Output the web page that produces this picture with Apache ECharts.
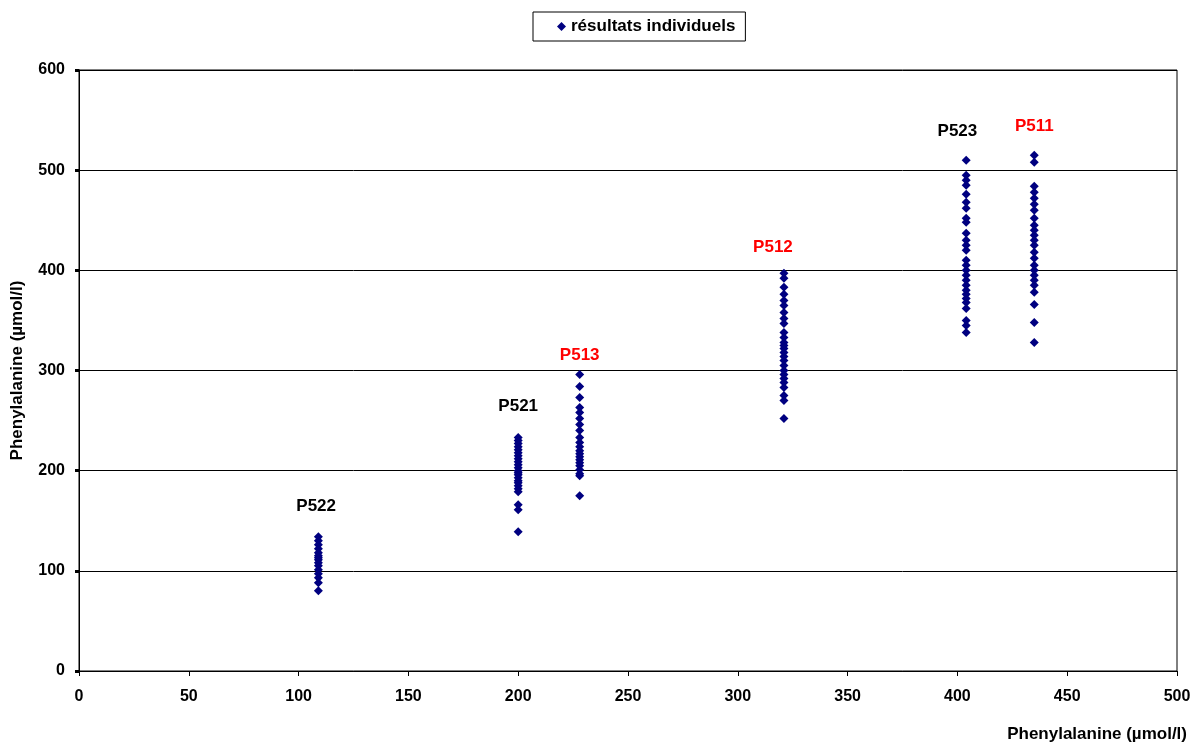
<!DOCTYPE html>
<html>
<head>
<meta charset="utf-8">
<script src="https://cdn.jsdelivr.net/npm/echarts@6/dist/echarts.min.js"></script>
<style>html,body{margin:0;padding:0;background:#fff}#c{width:1196px;height:743px}</style>
</head>
<body>
<div id="c"></div>
<script>
const seriesName = 'résultats individuels';
const axisTitle = 'Phenylalanine (µmol/l)';
const xTicks = {min: 0, max: 500, interval: 50};
const yTicks = {min: 0, max: 600, interval: 100};

// clusters: target x value and individual results
const p522X = 109;
const p522Y = [134, 130, 126, 122, 118, 115, 113, 111, 108, 105, 101, 97, 93, 88, 80];
const p521X = 200;
const p521Y = [233, 230, 227, 224, 221, 218, 215, 212, 209, 206, 203, 200, 198, 196, 193, 190, 188, 185, 182, 179, 166, 161, 139];
const p513X = 228;
const p513Y = [296, 284, 273, 263, 258, 252, 246, 240, 233, 228, 224, 220, 217, 214, 211, 208, 205, 201, 197, 195, 175];
const p512X = 321;
const p512Y = [397, 392, 383, 376, 370, 365, 358, 352, 347, 338, 333, 328, 325, 322, 318, 314, 310, 305, 300, 296, 292, 288, 283, 275, 270, 252];
const p523X = 404;
const p523Y = [510, 495, 490, 485, 476, 468, 462, 452, 448, 437, 430, 425, 420, 410, 405, 400, 395, 390, 385, 380, 376, 372, 368, 362, 350, 345, 338];
const p511X = 435;
const p511Y = [515, 508, 484, 478, 472, 466, 460, 452, 445, 440, 435, 430, 425, 418, 412, 405, 400, 395, 390, 385, 378, 366, 348, 328];

// cluster labels
const labelNames = ['P522', 'P521', 'P513', 'P512', 'P523', 'P511'];
const labelX = [108, 200, 228, 316, 400, 435];
const labelY = [164, 264, 315, 423, 539, 544];
const labelRed = [false, false, true, true, false, true];

const clusters = [[p522X, p522Y], [p521X, p521Y], [p513X, p513Y], [p512X, p512Y], [p523X, p523Y], [p511X, p511Y]];
const points = [];
clusters.forEach(([x, ys]) => ys.forEach(y => points.push([x, y])));

const FONT = 'Liberation Sans, Arial, sans-serif';
const diamond = 'path://M0,-1 L1,0 L0,1 L-1,0 Z';

const chart = echarts.init(document.getElementById('c'), null, {renderer: 'canvas'});
chart.setOption({
  backgroundColor: '#fff',
  animation: false,
  legend: {
    data: [{name: seriesName, icon: diamond}],
    top: 12, left: 533,
    itemWidth: 9, itemHeight: 9, itemGap: 4,
    borderColor: '#000', borderWidth: 1,
    padding: [6, 10, 6, 24],
    textStyle: {fontFamily: FONT, fontWeight: 'bold', fontSize: 17, color: '#000'}
  },
  grid: {left: 79, right: 19, top: 70, bottom: 72, show: true, borderColor: '#000', borderWidth: 1, backgroundColor: '#fff'},
  xAxis: {
    type: 'value', min: xTicks.min, max: xTicks.max, interval: xTicks.interval,
    name: axisTitle, nameLocation: 'end', nameGap: 10,
    nameTextStyle: {fontFamily: FONT, fontWeight: 'bold', fontSize: 17, color: '#000', align: 'right', verticalAlign: 'top', padding: [55, 0, 0, 0]},
    axisLine: {lineStyle: {color: '#000', width: 1}},
    axisTick: {show: true, length: 5, lineStyle: {color: '#000'}},
    axisLabel: {fontFamily: FONT, fontWeight: 'bold', fontSize: 16, color: '#000', margin: 18},
    splitLine: {show: false}
  },
  yAxis: {
    type: 'value', min: yTicks.min, max: yTicks.max, interval: yTicks.interval,
    name: axisTitle, nameLocation: 'middle', nameGap: 53, nameRotate: 90,
    nameTextStyle: {fontFamily: FONT, fontWeight: 'bold', fontSize: 17, color: '#000'},
    axisLine: {show: true, lineStyle: {color: '#000', width: 1}},
    axisTick: {show: true, length: 4, lineStyle: {color: '#000', width: 3}},
    axisLabel: {fontFamily: FONT, fontWeight: 'bold', fontSize: 16, color: '#000', margin: 14},
    splitLine: {show: true, lineStyle: {color: '#000', width: 1}}
  },
  series: [
    {
      name: seriesName, type: 'scatter', symbol: diamond, symbolSize: 9,
      itemStyle: {color: '#000080', opacity: 1},
      data: points
    },
    {
      name: 'labels', type: 'scatter', symbolSize: 0, silent: true,
      itemStyle: {opacity: 1},
      data: labelNames.map((n, i) => ({
        value: [labelX[i], labelY[i]],
        label: {show: true, position: 'inside', formatter: n, opacity: 1,
          color: labelRed[i] ? '#ff0000' : '#000000',
          fontFamily: FONT, fontWeight: 'bold', fontSize: 17}
      }))
    }
  ]
});
</script>
</body>
</html>
